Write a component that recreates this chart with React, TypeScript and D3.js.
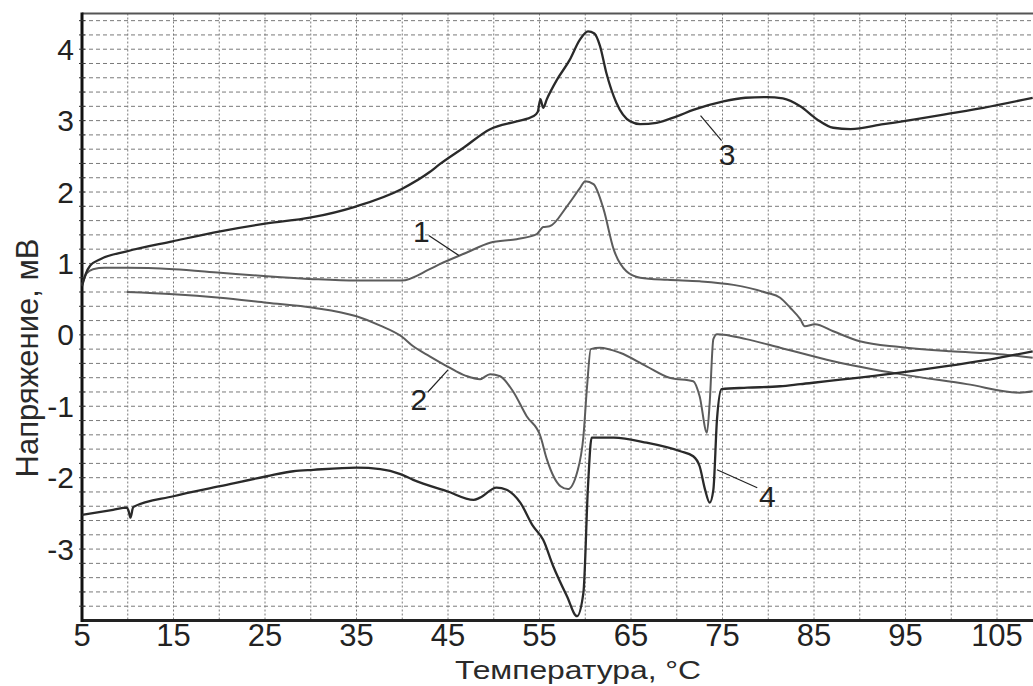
import * as d3 from 'd3';

// temperature (°C), voltage (mV)
const curve1: [number, number][] = [
  [5.0, 0.70], [5.5, 0.86], [6.2, 0.92], [7.5, 0.94], [9.9, 0.94], [15, 0.92], [20.1, 0.87],
  [25.2, 0.82], [30.3, 0.78], [35, 0.76], [39.9, 0.76], [43, 0.92], [44.1, 0.99], [47.0, 1.15],
  [49.6, 1.29], [52.5, 1.34], [54.7, 1.41], [55.4, 1.51], [56.1, 1.52], [58.0, 1.80], [59.4, 2.05],
  [60.0, 2.15], [60.9, 2.11], [62.0, 1.76], [63.1, 1.20], [64.5, 0.89], [66.0, 0.80], [69, 0.77],
  [72.5, 0.75], [76.2, 0.70], [79.8, 0.59], [81.3, 0.52], [82.4, 0.38], [83.5, 0.22], [84.0, 0.12],
  [85.1, 0.15], [87.1, 0.05], [90.0, -0.09], [94.4, -0.17], [99.9, -0.23], [105.3, -0.27], [108.9, -0.32],
];

const curve2: [number, number][] = [
  [9.9, 0.60], [15.0, 0.57], [20.1, 0.52], [25.2, 0.45], [30.3, 0.38], [35.0, 0.26], [37.6, 0.13],
  [39.9, -0.02], [41.2, -0.16], [43.0, -0.30], [44.9, -0.44], [45.9, -0.51], [47.1, -0.58], [48.5, -0.62],
  [49.6, -0.55], [50.7, -0.58], [52.1, -0.79], [53.6, -1.14], [55.1, -1.42], [55.8, -1.74], [57.3, -2.12],
  [58.1, -2.16], [59.1, -1.93], [59.8, -1.42], [60.2, -0.72], [60.6, -0.20], [61.6, -0.18], [63.8, -0.25],
  [66.7, -0.44], [69.2, -0.60], [71.8, -0.65], [72.5, -0.86], [73.3, -1.37], [73.6, -0.95], [74.0, -0.06],
  [74.4, 0.01], [77.6, -0.06], [81.3, -0.18], [87.1, -0.37], [94.4, -0.55], [101.7, -0.69], [107.5, -0.81],
  [108.9, -0.79],
];

const curve3: [number, number][] = [
  [5.0, 0.68], [5.4, 0.85], [5.9, 0.97], [7, 1.06], [9.9, 1.17], [14.9, 1.31], [20.1, 1.45],
  [25.2, 1.56], [29.9, 1.64], [35.0, 1.80], [39.9, 2.04], [43.0, 2.28], [44.1, 2.39], [46.7, 2.62],
  [49.6, 2.88], [52.5, 2.99], [54.3, 3.06], [54.8, 3.12], [55.1, 3.30], [55.4, 3.18], [55.8, 3.30],
  [56.9, 3.57], [58.3, 3.85], [59.4, 4.13], [60.3, 4.25], [61.0, 4.22], [61.6, 4.05], [62.3, 3.67],
  [63.4, 3.25], [64.9, 2.99], [66.0, 2.95], [67.8, 2.97], [70.0, 3.06], [71.8, 3.15], [75.1, 3.27],
  [77.5, 3.32], [79.8, 3.33], [81.6, 3.31], [83.5, 3.20], [85.3, 3.02], [87.1, 2.90], [89.0, 2.88],
  [92.6, 2.95], [96.2, 3.02], [99.9, 3.10], [103.5, 3.18], [108.9, 3.32],
];

const curve4: [number, number][] = [
  [5.0, -2.52], [8.4, -2.45], [9.9, -2.42], [10.1, -2.47], [10.3, -2.56], [10.6, -2.41], [15.0, -2.26],
  [20.1, -2.12], [25.2, -1.98], [28.1, -1.91], [30.3, -1.89], [35.0, -1.86], [37.6, -1.88], [39.8, -1.95],
  [41.2, -2.03], [44.9, -2.19], [47.8, -2.31], [48.5, -2.28], [50.3, -2.14], [51.4, -2.17], [52.9, -2.35],
  [54.3, -2.68], [55.4, -2.87], [56.5, -3.24], [58.0, -3.66], [59.1, -3.94], [59.8, -3.61], [60.3, -2.12],
  [60.7, -1.44], [63.1, -1.44], [66.7, -1.51], [70.4, -1.63], [71.8, -1.70], [72.5, -1.84], [73.1, -2.17],
  [73.6, -2.35], [74.0, -2.17], [74.4, -1.18], [74.9, -0.76], [77.7, -0.74], [81.3, -0.72], [83.5, -0.69],
  [94.4, -0.53], [105.3, -0.32], [108.9, -0.23],
];

const xTicks = [5, 15, 25, 35, 45, 55, 65, 75, 85, 95, 105];
const yTicks = [4, 3, 2, 1, 0, -1, -2, -3];

// curve number labels: [label, text T, text V, line start T, V, line end T, V]
const callouts: [string, number, number, number, number, number, number][] = [
  ['1', 42.1, 1.45, 42.9, 1.39, 46.2, 1.11],
  ['2', 41.8, -0.9, 42.8, -0.8, 45.0, -0.49],
  ['3', 75.5, 2.52, 72.6, 3.07, 74.9, 2.72],
  ['4', 79.9, -2.26, 74.4, -1.89, 78.8, -2.14],
];

const W = 1033, H = 686;

export default function App() {
  const x = d3.scaleLinear().domain([5, 109]).range([82, 1033.6]);
  const y = d3.scaleLinear().domain([-4, 4.5]).range([620.5, 13.5]);

  const line = d3.line<[number, number]>()
    .x(d => x(d[0]))
    .y(d => y(d[1]))
    .curve(d3.curveMonotoneX);

  const vGrid = d3.range(10, 110, 5);
  const hGrid = d3.range(-19, 23).map(i => i * 0.2);

  const font = 'Arial, "Liberation Sans", sans-serif';

  return (
    <div style={{ position: 'absolute', left: 0, top: 0 }}>
      <svg width={W} height={H} style={{ display: 'block', background: '#fff' }} fontFamily={font}>
        <g>
          {hGrid.map(v => (
            <line key={'h' + v} x1={x(5)} x2={W} y1={y(v)} y2={y(v)}
              stroke="#7a7a7a" strokeWidth={1} strokeDasharray="4,3" />
          ))}
          {vGrid.map(v => (
            <line key={'v' + v} x1={x(v)} x2={x(v)} y1={y(4.5)} y2={y(-4)}
              stroke="#7a7a7a" strokeWidth={1} strokeDasharray="2,2" />
          ))}
        </g>

        {/* frame */}
        <line x1={x(5)} x2={W} y1={y(4.5)} y2={y(4.5)} stroke="#555" strokeWidth={2} />
        <line x1={x(5)} x2={W} y1={y(-4)} y2={y(-4)} stroke="#222" strokeWidth={3} />
        <line x1={x(5)} x2={x(5)} y1={y(4.5) - 1} y2={y(-4) + 1.5} stroke="#111" strokeWidth={3} />
        {hGrid.map(v => (
          <line key={'t' + v} x1={x(5) - 3} x2={x(5) + 3} y1={y(v)} y2={y(v)} stroke="#333" strokeWidth={1} />
        ))}

        {/* curves */}
        <path d={line(curve1) ?? ''} fill="none" stroke="#5c5c5c" strokeWidth={2} />
        <path d={line(curve2) ?? ''} fill="none" stroke="#5c5c5c" strokeWidth={2} />
        <path d={line(curve3) ?? ''} fill="none" stroke="#2a2a2a" strokeWidth={2.3} />
        <path d={line(curve4) ?? ''} fill="none" stroke="#2a2a2a" strokeWidth={2.3} />

        {/* callouts */}
        {callouts.map(c => (
          <g key={c[0]}>
            <line x1={x(c[3])} y1={y(c[4])} x2={x(c[5])} y2={y(c[6])} stroke="#222" strokeWidth={1.2} />
            <text x={x(c[1])} y={y(c[2])} textAnchor="middle" dominantBaseline="central"
              fontSize={30} fill="#222">{c[0]}</text>
          </g>
        ))}

        {/* tick labels */}
        {yTicks.map(v => (
          <text key={'yl' + v} x={74} y={y(v)} textAnchor="end" dominantBaseline="central"
            fontSize={30} fill="#222">{v}</text>
        ))}
        {xTicks.map(v => (
          <text key={'xl' + v} x={x(v)} y={646} textAnchor="middle" fontSize={31} fill="#222">{v}</text>
        ))}

        {/* axis titles */}
        <text x={578} y={679} textAnchor="middle" fontSize={26} fill="#2a2a2a"
          textLength={246} lengthAdjust="spacingAndGlyphs">Температура, °C</text>
        <text transform="translate(38,358) rotate(-90)" textAnchor="middle" fontSize={31} fill="#2a2a2a">
          Напряжение, мВ
        </text>
      </svg>
    </div>
  );
}
